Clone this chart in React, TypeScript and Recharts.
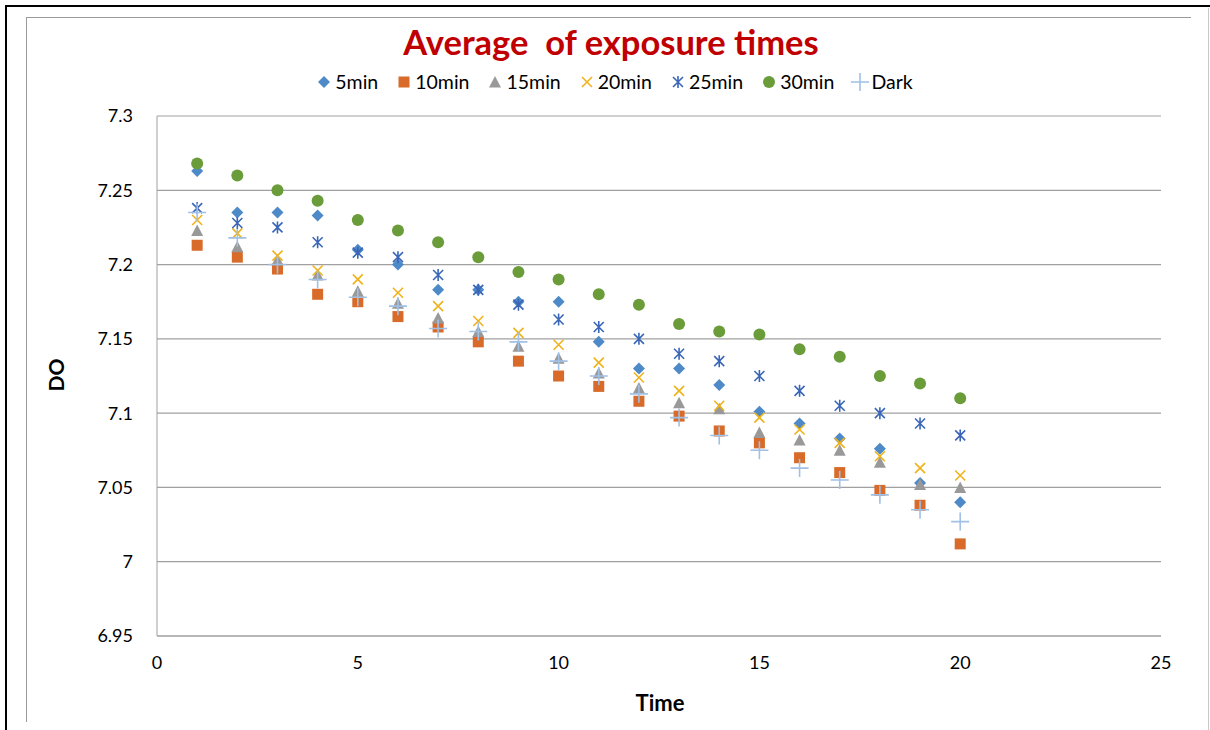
import React from 'react';
import { ScatterChart, Scatter, XAxis, YAxis, CartesianGrid } from 'recharts';

const TIMES = [1, 2, 3, 4, 5, 6, 7, 8, 9, 10, 11, 12, 13, 14, 15, 16, 17, 18, 19, 20];
const MIN5 = [7.263, 7.235, 7.235, 7.233, 7.21, 7.2, 7.183, 7.183, 7.175, 7.175, 7.148, 7.13, 7.13, 7.119, 7.101, 7.093, 7.083, 7.076, 7.053, 7.04];
const MIN10 = [7.213, 7.205, 7.197, 7.18, 7.175, 7.165, 7.158, 7.148, 7.135, 7.125, 7.118, 7.108, 7.098, 7.088, 7.08, 7.07, 7.06, 7.048, 7.038, 7.012];
const MIN15 = [7.223, 7.212, 7.203, 7.193, 7.182, 7.174, 7.164, 7.155, 7.145, 7.137, 7.127, 7.117, 7.107, 7.103, 7.087, 7.082, 7.075, 7.067, 7.052, 7.05];
const MIN20 = [7.23, 7.221, 7.206, 7.196, 7.19, 7.181, 7.172, 7.162, 7.154, 7.146, 7.134, 7.124, 7.115, 7.105, 7.097, 7.089, 7.08, 7.071, 7.063, 7.058];
const MIN25 = [7.238, 7.228, 7.225, 7.215, 7.208, 7.205, 7.193, 7.183, 7.173, 7.163, 7.158, 7.15, 7.14, 7.135, 7.125, 7.115, 7.105, 7.1, 7.093, 7.085];
const MIN30 = [7.268, 7.26, 7.25, 7.243, 7.23, 7.223, 7.215, 7.205, 7.195, 7.19, 7.18, 7.173, 7.16, 7.155, 7.153, 7.143, 7.138, 7.125, 7.12, 7.11];
const DARK = [7.235, 7.218, 7.2, 7.19, 7.178, 7.172, 7.157, 7.155, 7.148, 7.135, 7.125, 7.113, 7.097, 7.085, 7.075, 7.063, 7.055, 7.045, 7.035, 7.027];

const X_TICKS = [0, 5, 10, 15, 20, 25];
const Y_TICKS = [6.95, 7, 7.05, 7.1, 7.15, 7.2, 7.25, 7.3];

const FONT = 'Lato, "Liberation Sans", sans-serif';

type P = { cx?: number; cy?: number };

const Diamond = ({ cx = 0, cy = 0 }: P) => (
  <path d={`M${cx},${cy - 6}L${cx + 6},${cy}L${cx},${cy + 6}L${cx - 6},${cy}Z`} fill="#4e8ac8" />
);
const Square = ({ cx = 0, cy = 0 }: P) => (
  <rect x={cx - 5.5} y={cy - 5.5} width={11} height={11} fill="#d86b29" />
);
const Triangle = ({ cx = 0, cy = 0 }: P) => (
  <path d={`M${cx},${cy - 6}L${cx + 6},${cy + 5.5}L${cx - 6},${cy + 5.5}Z`} fill="#999999" />
);
const XMark = ({ cx = 0, cy = 0 }: P) => (
  <path d={`M${cx - 5},${cy - 5}L${cx + 5},${cy + 5}M${cx - 5},${cy + 5}L${cx + 5},${cy - 5}`} stroke="#efb21a" strokeWidth={1.6} />
);
const Star = ({ cx = 0, cy = 0 }: P) => (
  <path
    d={`M${cx - 5},${cy - 5}L${cx + 5},${cy + 5}M${cx - 5},${cy + 5}L${cx + 5},${cy - 5}M${cx},${cy - 6}L${cx},${cy + 6}`}
    stroke="#3a66b8"
    strokeWidth={1.6}
  />
);
const Dot = ({ cx = 0, cy = 0 }: P) => <circle cx={cx} cy={cy} r={6} fill="#6a9c3a" />;
const Plus = ({ cx = 0, cy = 0 }: P) => (
  <path d={`M${cx - 9},${cy}L${cx + 9},${cy}M${cx},${cy - 9}L${cx},${cy + 9}`} stroke="#a0c0e6" strokeWidth={1.6} />
);

const SERIES = [
  { name: '5min', values: MIN5, Shape: Diamond },
  { name: '10min', values: MIN10, Shape: Square },
  { name: '15min', values: MIN15, Shape: Triangle },
  { name: '20min', values: MIN20, Shape: XMark },
  { name: '25min', values: MIN25, Shape: Star },
  { name: '30min', values: MIN30, Shape: Dot },
  { name: 'Dark', values: DARK, Shape: Plus },
];

const fmt = (v: number) => String(Number(v.toFixed(2)));

export default function App() {
  return (
    <div style={{ position: 'fixed', left: 0, top: 0, width: 1210, height: 730, background: '#fff', fontFamily: FONT, overflow: 'hidden' }}>
      {/* frame lines */}
      <div style={{ position: 'absolute', left: 5, top: 5, width: 1205, height: 2, background: '#000' }} />
      <div style={{ position: 'absolute', left: 5, top: 5, width: 2, height: 725, background: '#000' }} />
      <div style={{ position: 'absolute', left: 26, top: 17, width: 1165, height: 1, background: '#9a9a9a' }} />
      <div style={{ position: 'absolute', left: 26, top: 17, width: 1, height: 705, background: '#9a9a9a' }} />
      <div style={{ position: 'absolute', left: 1208, top: 8, width: 1, height: 722, background: '#c8c8c8' }} />

      <div style={{ position: 'absolute', left: 6, top: 21, width: 1210, textAlign: 'center', color: '#c00000', fontWeight: 700, fontSize: 34.5, whiteSpace: 'pre' }}>
        {'Average  of exposure times'}
      </div>

      <div style={{ position: 'absolute', left: 9, top: 70, width: 1210, display: 'flex', justifyContent: 'center', gap: 17, fontSize: 19.5, color: '#000' }}>
        {SERIES.map(({ name, Shape }) => (
          <div key={name} style={{ display: 'flex', alignItems: 'center', gap: 2 }}>
            <svg width={18} height={22}>
              <Shape cx={9} cy={11} />
            </svg>
            <span>{name}</span>
          </div>
        ))}
      </div>

      <div style={{ position: 'absolute', left: 55, top: 375, transform: 'translate(-50%,-50%) rotate(-90deg)', fontWeight: 700, fontSize: 21 }}>DO</div>
      <div style={{ position: 'absolute', left: 660, top: 702, transform: 'translate(-50%,-50%)', fontWeight: 700, fontSize: 22 }}>Time</div>

      <div style={{ position: 'absolute', left: 0, top: 0 }}>
        <ScatterChart width={1210} height={730} margin={{ top: 116, right: 49, bottom: 64, left: 57 }}>
          <CartesianGrid vertical={false} stroke="#a0a0a0" strokeWidth={1.2} />
          <XAxis
            type="number"
            dataKey="x"
            domain={[0, 25]}
            ticks={X_TICKS}
            height={30}
            tickLine={false}
            axisLine={{ stroke: '#a0a0a0' }}
            tickMargin={14}
            tick={{ fill: '#000', fontSize: 18, fontFamily: FONT }}
          />
          <YAxis
            type="number"
            dataKey="y"
            domain={[6.95, 7.3]}
            ticks={Y_TICKS}
            width={100}
            tickLine={false}
            axisLine={{ stroke: '#a0a0a0' }}
            tickMargin={18}
            tickFormatter={fmt}
            tick={{ fill: '#000', fontSize: 18, fontFamily: FONT }}
            allowDataOverflow
          />
          {SERIES.map(({ name, values, Shape }) => (
            <Scatter
              key={name}
              name={name}
              data={TIMES.map((t, i) => ({ x: t, y: values[i] }))}
              isAnimationActive={false}
              shape={(p: any) => <Shape cx={p.cx} cy={p.cy} />}
            />
          ))}
        </ScatterChart>
      </div>
    </div>
  );
}
